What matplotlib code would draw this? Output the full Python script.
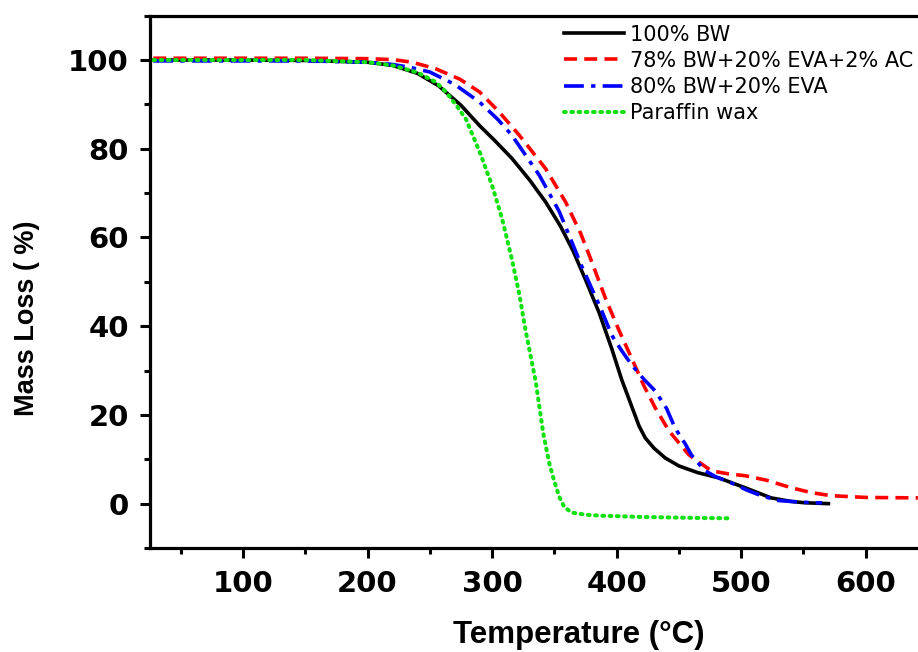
import matplotlib
matplotlib.use('Agg')
import matplotlib.pyplot as plt
from matplotlib.ticker import MultipleLocator

# --- DATA ---
t_bw = [28, 100, 150, 200, 220, 240, 257, 275, 290, 303, 316, 330, 343, 355, 365,
        375, 386, 396, 404, 412, 418, 423, 430, 439, 450, 465, 482, 503, 524, 540, 551, 570]
m_bw = [100, 100, 99.9, 99.5, 98.8, 97, 94.2, 89.8, 85.2, 81.6, 77.8, 73, 68, 62.5, 57,
        50.5, 43, 35, 28, 22, 17.5, 14.8, 12.5, 10.3, 8.5, 7, 5.8, 3.6, 1.3, 0.5, 0.2, 0]

t_ac = [28, 100, 150, 200, 220, 236, 255, 274, 290, 305, 322, 343, 359, 371, 378, 391,
        402, 412, 422, 431, 442, 458, 476, 490, 503, 520, 540, 556, 572, 600, 640, 660]
m_ac = [100.4, 100.4, 100.4, 100.3, 100.1, 99.5, 98, 95.7, 92.8, 88.5, 83, 75.5, 68, 61, 56, 46.3,
        39, 32.8, 26.5, 21.6, 16.4, 11, 7.4, 6.7, 6.3, 5.3, 3.6, 2.5, 1.8, 1.4, 1.3, 1.3]

t_eva = [28, 100, 150, 200, 220, 235, 250, 270, 290, 305, 316, 338, 354, 364, 372, 380, 388,
         396, 404, 412, 422, 431, 440, 447, 455, 460, 466, 471, 480, 492, 505, 516, 530, 545, 559, 565]
m_eva = [99.8, 99.8, 99.8, 99.5, 99, 98.3, 97.3, 94.5, 90.5, 86.5, 83, 74, 65.8, 59, 53.5, 48.5, 43.5,
         38, 34.5, 31.3, 28, 25.4, 21.5, 17, 13.5, 11, 9, 7.4, 6, 4.7, 3, 1.8, 0.7, 0.4, 0.2, 0.2]

t_pw = [28, 100, 150, 200, 220, 240, 255, 263, 272, 279, 290, 300, 308, 316, 322, 327, 335,
        341, 346, 350, 354, 358, 364, 375, 386, 420, 460, 490]
m_pw = [100, 100, 100, 99.5, 98.8, 97.2, 95, 92.8, 89.5, 86.7, 79.3, 71.7, 64.3, 55, 47, 38.9, 27.6,
        16, 9, 5, 1.5, -0.8, -2, -2.5, -2.7, -3, -3.2, -3.3]

labels = ['100% BW', '78% BW+20% EVA+2% AC', '80% BW+20% EVA', 'Paraffin wax']

# --- PLOT ---
fig = plt.figure(figsize=(9.18, 6.52), dpi=100)
# axes run past the right edge of the picture, as in the reference crop
ax = fig.add_axes([0.1637, 0.1595, 0.9015, 0.8165])

ax.plot(t_bw, m_bw, color='black', lw=2.6, label=labels[0])
ax.plot(t_ac, m_ac, color='#ff0000', lw=2.6, dashes=(3.6, 2.0), label=labels[1])
ax.plot(t_eva, m_eva, color='#0000ff', lw=2.6, dashes=(5.5, 2.0, 1.2, 2.0), label=labels[2])
ax.plot(t_pw, m_pw, color='#11e011', lw=2.9, dashes=(0.45, 1.35),
        dash_capstyle='round', label=labels[3])

ax.set_xlim(25.6, 690)
ax.set_ylim(-10, 110)

ax.xaxis.set_major_locator(MultipleLocator(100))
ax.xaxis.set_minor_locator(MultipleLocator(50))
ax.yaxis.set_major_locator(MultipleLocator(20))
ax.yaxis.set_minor_locator(MultipleLocator(10))

for s in ['left', 'bottom', 'top', 'right']:
    ax.spines[s].set_linewidth(2.3)

ax.tick_params(which='major', direction='out', length=7.5, width=2.2, pad=8)
ax.tick_params(which='minor', direction='out', length=4, width=2.2)
for lab in ax.get_xticklabels() + ax.get_yticklabels():
    lab.set_fontfamily('DejaVu Sans')
    lab.set_fontweight('bold')
    lab.set_fontsize(21)

ax.set_xlabel('Temperature (°C)', family='Liberation Sans', fontweight='bold', fontsize=22.5)
ax.set_ylabel('Mass Loss ( %)', family='Liberation Sans', fontweight='bold', fontsize=19.5)
ax.xaxis.set_label_coords(0.518, -0.135)
ax.yaxis.set_label_coords(-0.133, 0.432)

ax.legend(loc='upper left', bbox_to_anchor=(358, 108.0), bbox_transform=ax.transData,
          frameon=False, borderpad=0, borderaxespad=0, handlelength=2.85,
          handletextpad=0.3, labelspacing=0.3,
          prop={'family': 'DejaVu Sans', 'size': 15})

fig.savefig('out.png', dpi=100)
